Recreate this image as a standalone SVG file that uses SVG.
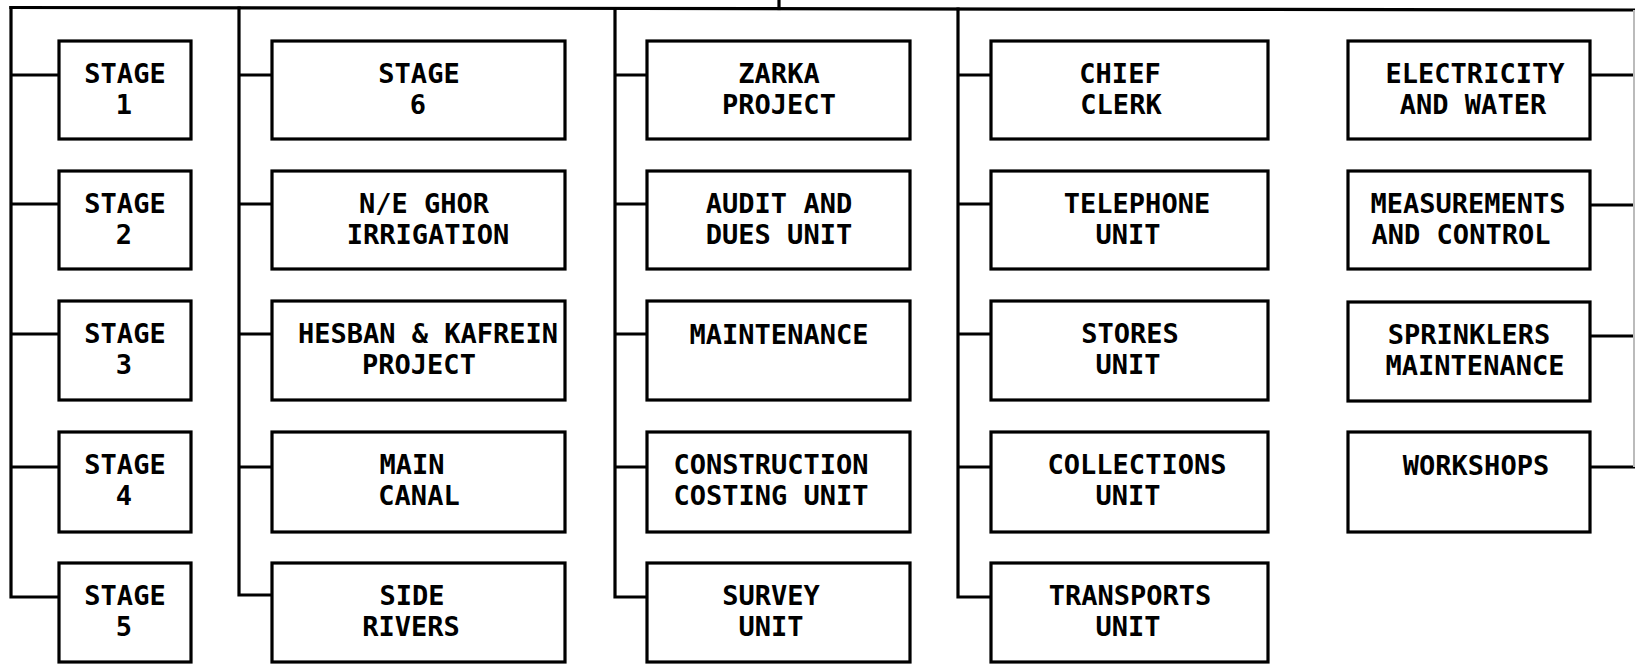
<svg xmlns="http://www.w3.org/2000/svg" width="1635" height="667" viewBox="0 0 1635 667">
<style>
.box{fill:#fff;stroke:#000;stroke-width:3.2}
.ln{fill:none;stroke:#000;stroke-width:3.2;stroke-linecap:square}
.t{font-family:"DejaVu Sans Mono","Liberation Mono",monospace;font-weight:bold;font-size:27px;fill:#000;text-anchor:middle}
</style>
<rect width="1635" height="667" fill="#fff"/>
<g id="connectors">
<path class="ln" d="M11 7.5 L1635 10"/>
<path class="ln" d="M779 0 L779 8.5"/>
<path class="ln" d="M11 7.5 V597 M11 75 H59 M11 204 H59 M11 334 H59 M11 467 H59 M11 597 H59"/>
<path class="ln" d="M239 8 V595 M239 75 H272 M239 204 H272 M239 334 H272 M239 467 H272 M239 595 H272"/>
<path class="ln" d="M615 8.5 V597 M615 75 H647 M615 204 H647 M615 334 H647 M615 467 H647 M615 597 H647"/>
<path class="ln" d="M958 9 V597 M958 75 H991 M958 204 H991 M958 334 H991 M958 467 H991 M958 597 H991"/>
<path class="ln" d="M1590 75 H1635 M1590 205 H1635 M1590 336 H1635 M1590 467 H1635"/>
<path d="M1634 10 V467" fill="none" stroke="#bbb" stroke-width="2"/>
</g>
<g id="stage1"><rect class="box" x="59" y="41" width="132" height="98"/><text class="t" x="125" y="83">STAGE</text><text class="t" x="124" y="114">1</text></g>
<g id="stage2"><rect class="box" x="59" y="171" width="132" height="98"/><text class="t" x="125" y="213">STAGE</text><text class="t" x="124" y="244">2</text></g>
<g id="stage3"><rect class="box" x="59" y="301" width="132" height="99"/><text class="t" x="125" y="343">STAGE</text><text class="t" x="124" y="374">3</text></g>
<g id="stage4"><rect class="box" x="59" y="432" width="132" height="100"/><text class="t" x="125" y="474">STAGE</text><text class="t" x="124" y="505">4</text></g>
<g id="stage5"><rect class="box" x="59" y="563" width="132" height="99"/><text class="t" x="125" y="605">STAGE</text><text class="t" x="124" y="636">5</text></g>

<g id="stage6"><rect class="box" x="272" y="41" width="293" height="98"/><text class="t" x="419" y="83">STAGE</text><text class="t" x="418" y="114">6</text></g>
<g id="ne-ghor"><rect class="box" x="272" y="171" width="293" height="98"/><text class="t" x="424" y="213">N/E GHOR</text><text class="t" x="428" y="244">IRRIGATION</text></g>
<g id="hesban"><rect class="box" x="272" y="301" width="293" height="99"/><text class="t" x="428" y="343">HESBAN &amp; KAFREIN</text><text class="t" x="419" y="374">PROJECT</text></g>
<g id="main-canal"><rect class="box" x="272" y="432" width="293" height="100"/><text class="t" x="412" y="474">MAIN</text><text class="t" x="419" y="505">CANAL</text></g>
<g id="side-rivers"><rect class="box" x="272" y="563" width="293" height="99"/><text class="t" x="412" y="605">SIDE</text><text class="t" x="411" y="636">RIVERS</text></g>

<g id="zarka"><rect class="box" x="647" y="41" width="263" height="98"/><text class="t" x="779" y="83">ZARKA</text><text class="t" x="779" y="114">PROJECT</text></g>
<g id="audit"><rect class="box" x="647" y="171" width="263" height="98"/><text class="t" x="779" y="213">AUDIT AND</text><text class="t" x="779" y="244">DUES UNIT</text></g>
<g id="maintenance"><rect class="box" x="647" y="301" width="263" height="99"/><text class="t" x="779" y="344">MAINTENANCE</text></g>
<g id="construction"><rect class="box" x="647" y="432" width="263" height="100"/><text class="t" x="771" y="474">CONSTRUCTION</text><text class="t" x="771" y="505">COSTING UNIT</text></g>
<g id="survey"><rect class="box" x="647" y="563" width="263" height="99"/><text class="t" x="771" y="605">SURVEY</text><text class="t" x="771" y="636">UNIT</text></g>

<g id="chief-clerk"><rect class="box" x="991" y="41" width="277" height="98"/><text class="t" x="1120" y="83">CHIEF</text><text class="t" x="1121" y="114">CLERK</text></g>
<g id="telephone"><rect class="box" x="991" y="171" width="277" height="98"/><text class="t" x="1137" y="213">TELEPHONE</text><text class="t" x="1128" y="244">UNIT</text></g>
<g id="stores"><rect class="box" x="991" y="301" width="277" height="99"/><text class="t" x="1130" y="343">STORES</text><text class="t" x="1128" y="374">UNIT</text></g>
<g id="collections"><rect class="box" x="991" y="432" width="277" height="100"/><text class="t" x="1137" y="474">COLLECTIONS</text><text class="t" x="1128" y="505">UNIT</text></g>
<g id="transports"><rect class="box" x="991" y="563" width="277" height="99"/><text class="t" x="1130" y="605">TRANSPORTS</text><text class="t" x="1128" y="636">UNIT</text></g>

<g id="electricity"><rect class="box" x="1348" y="41" width="242" height="98"/><text class="t" x="1475" y="83">ELECTRICITY</text><text class="t" x="1473" y="114">AND WATER</text></g>
<g id="measurements"><rect class="box" x="1348" y="171" width="242" height="98"/><text class="t" x="1468" y="213">MEASUREMENTS</text><text class="t" x="1461" y="244">AND CONTROL</text></g>
<g id="sprinklers"><rect class="box" x="1348" y="302" width="242" height="99"/><text class="t" x="1469" y="344">SPRINKLERS</text><text class="t" x="1475" y="375">MAINTENANCE</text></g>
<g id="workshops"><rect class="box" x="1348" y="432" width="242" height="100"/><text class="t" x="1476" y="475">WORKSHOPS</text></g>
</svg>
